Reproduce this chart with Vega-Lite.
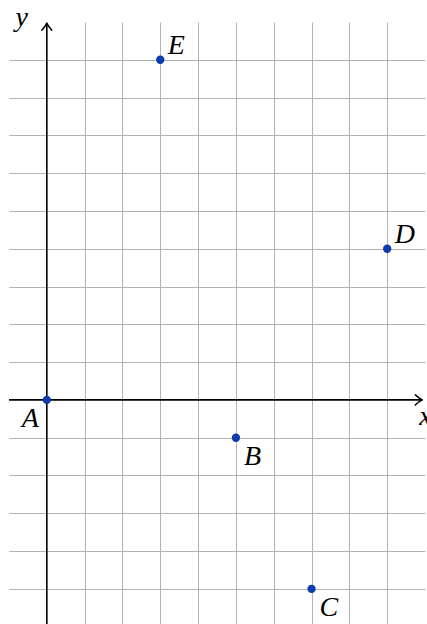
{
  "$schema": "https://vega.github.io/schema/vega-lite/v6.json",
  "width": 416,
  "height": 602,
  "autosize": {"type": "none"},
  "padding": {"left": 9, "top": 22, "right": 2, "bottom": 0},
  "background": "white",
  "config": {
    "view": {"stroke": null},
    "axis": {"title": null, "labels": false, "ticks": false, "domain": false, "grid": true, "gridColor": "#b3b3b3", "gridWidth": 1, "gridOpacity": 1}
  },
  "datasets": {
    "points": [
      {"label": "A", "x": 0, "y": 0},
      {"label": "B", "x": 5, "y": -1},
      {"label": "C", "x": 7, "y": -5},
      {"label": "D", "x": 9, "y": 4},
      {"label": "E", "x": 3, "y": 9}
    ],
    "one": [{"n": 1}]
  },
  "layer": [
    {
      "data": {"name": "one"},
      "mark": {"type": "rule", "color": "black", "strokeWidth": 1.6},
      "encoding": {
        "x": {"datum": -1, "type": "quantitative", "scale": {"domain": [-1, 10], "nice": false, "zero": false}, "axis": {"values": [1, 2, 3, 4, 5, 6, 7, 8, 9], "title": null}},
        "x2": {"datum": 9.93},
        "y": {"datum": 0, "type": "quantitative", "scale": {"domain": [-5.93, 10], "nice": false, "zero": false}, "axis": {"values": [-5, -4, -3, -2, -1, 1, 2, 3, 4, 5, 6, 7, 8, 9], "title": null}}
      }
    },
    {
      "data": {"name": "one"},
      "mark": {"type": "rule", "color": "black", "strokeWidth": 1.6},
      "encoding": {
        "x": {"datum": 0, "type": "quantitative"},
        "y": {"datum": -5.93, "type": "quantitative"},
        "y2": {"datum": 9.97}
      }
    },
    {
      "data": {"name": "one"},
      "mark": {"type": "point", "shape": "M -1.4 -1 Q -0.5 -0.2 0 0 Q -0.5 0.2 -1.4 1", "filled": false, "stroke": "black", "strokeWidth": 1.5, "size": 100, "strokeCap": "round", "strokeJoin": "round", "opacity": 1},
      "encoding": {
        "x": {"datum": 9.93, "type": "quantitative"},
        "y": {"datum": 0, "type": "quantitative"}
      }
    },
    {
      "data": {"name": "one"},
      "mark": {"type": "point", "shape": "M -1.4 -1 Q -0.5 -0.2 0 0 Q -0.5 0.2 -1.4 1", "filled": false, "stroke": "black", "strokeWidth": 1.5, "size": 100, "angle": 270, "strokeCap": "round", "strokeJoin": "round", "opacity": 1},
      "encoding": {
        "x": {"datum": 0, "type": "quantitative"},
        "y": {"datum": 9.97, "type": "quantitative"}
      }
    },
    {
      "data": {"name": "one"},
      "mark": {"type": "text", "text": "x", "font": "Liberation Serif, Times New Roman, serif", "fontStyle": "italic", "fontSize": 28, "align": "left", "baseline": "alphabetic", "dx": -3, "dy": 25, "color": "black"},
      "encoding": {
        "x": {"datum": 9.93, "type": "quantitative"},
        "y": {"datum": 0, "type": "quantitative"}
      }
    },
    {
      "data": {"name": "one"},
      "mark": {"type": "text", "text": "y", "font": "Liberation Serif, Times New Roman, serif", "fontStyle": "italic", "fontSize": 28, "align": "right", "baseline": "alphabetic", "dx": -19, "dy": 3, "color": "black"},
      "encoding": {
        "x": {"datum": 0, "type": "quantitative"},
        "y": {"datum": 9.97, "type": "quantitative"}
      }
    },
    {
      "data": {"name": "points"},
      "mark": {"type": "circle", "color": "#0a3cad", "size": 70, "opacity": 1},
      "encoding": {
        "x": {"field": "x", "type": "quantitative"},
        "y": {"field": "y", "type": "quantitative"}
      }
    },
    {
      "data": {"name": "points"},
      "transform": [{"filter": "datum.label === 'E' || datum.label === 'D'"}],
      "mark": {"type": "text", "font": "Liberation Serif, Times New Roman, serif", "fontStyle": "italic", "fontSize": 28, "align": "left", "baseline": "alphabetic", "dx": 7.5, "dy": -5.5, "color": "black"},
      "encoding": {
        "x": {"field": "x", "type": "quantitative"},
        "y": {"field": "y", "type": "quantitative"},
        "text": {"field": "label"}
      }
    },
    {
      "data": {"name": "points"},
      "transform": [{"filter": "datum.label === 'B' || datum.label === 'C'"}],
      "mark": {"type": "text", "font": "Liberation Serif, Times New Roman, serif", "fontStyle": "italic", "fontSize": 28, "align": "left", "baseline": "alphabetic", "dx": 8, "dy": 27, "color": "black"},
      "encoding": {
        "x": {"field": "x", "type": "quantitative"},
        "y": {"field": "y", "type": "quantitative"},
        "text": {"field": "label"}
      }
    },
    {
      "data": {"name": "points"},
      "transform": [{"filter": "datum.label === 'A'"}],
      "mark": {"type": "text", "font": "Liberation Serif, Times New Roman, serif", "fontStyle": "italic", "fontSize": 28, "align": "right", "baseline": "alphabetic", "dx": -8, "dy": 27, "color": "black"},
      "encoding": {
        "x": {"field": "x", "type": "quantitative"},
        "y": {"field": "y", "type": "quantitative"},
        "text": {"field": "label"}
      }
    }
  ]
}
